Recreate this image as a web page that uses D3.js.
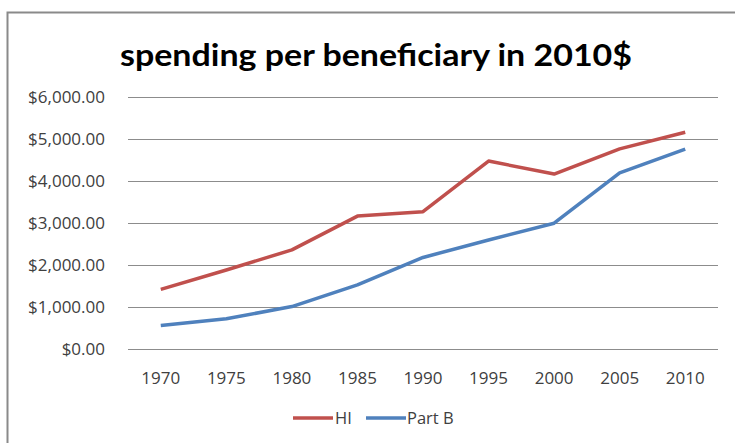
<!DOCTYPE html>
<html>
<head>
<meta charset="utf-8">
<script src="https://cdn.jsdelivr.net/npm/d3@7"></script>
<style>
  body { margin: 0; background: #fff; }
  text { font-family: "Open Sans", Lato, sans-serif; }
  .title { font-family: Lato, "Open Sans", sans-serif; }
</style>
</head>
<body>
<div id="chart-container"></div>
<script>
// line chart of spending per beneficiary, two series
const svgWidth = 735;
const svgHeight = 443;
const margin = { top: 97, right: 17, bottom: 94, left: 128 };
const width = svgWidth - margin.left - margin.right;
const height = svgHeight - margin.top - margin.bottom;

const years = ["1970", "1975", "1980", "1985", "1990", "1995", "2000", "2005", "2010"];
const hiValues = [1420, 1880, 2360, 3165, 3270, 4475, 4165, 4765, 5160];
const partBValues = [560, 720, 1010, 1525, 2180, 2595, 2995, 4195, 4760];
const yTicks = [0, 1000, 2000, 3000, 4000, 5000, 6000];
const seriesNames = ["HI", "Part B"];
const seriesColors = ["#C0504D", "#4F81BD"];

const root = d3.select("#chart-container")
    .append("svg")
    .attr("width", svgWidth)
    .attr("height", svgHeight);

// frame of the chart area (runs off the picture on the right and bottom)
root.append("rect")
    .attr("x", 7.5)
    .attr("y", 12.5)
    .attr("width", 800)
    .attr("height", 500)
    .attr("fill", "none")
    .attr("stroke", "#8a8a8a")
    .attr("stroke-width", 2);

const svg = root.append("g")
    .attr("transform", `translate(${margin.left},${margin.top})`);

const x = d3.scalePoint()
    .domain(years)
    .range([0, width])
    .padding(0.5);

const y = d3.scaleLinear()
    .domain([0, 6000])
    .range([height, 0]);

const money = d3.format("$,.2f");

// gridlines
svg.selectAll(".grid")
    .data(yTicks)
    .enter()
    .append("line")
    .attr("class", "grid")
    .attr("x1", 0)
    .attr("x2", width)
    .attr("y1", d => Math.round(y(d)) + 0.5)
    .attr("y2", d => Math.round(y(d)) + 0.5)
    .attr("stroke", "#8c8c8c")
    .attr("stroke-width", 1);

// y labels
svg.selectAll(".ylab")
    .data(yTicks)
    .enter()
    .append("text")
    .attr("class", "ylab")
    .attr("x", -23)
    .attr("y", d => y(d))
    .attr("dy", "0.35em")
    .attr("text-anchor", "end")
    .attr("font-size", 17)
    .attr("fill", "#404040")
    .text(d => money(d));

// x labels
svg.selectAll(".xlab")
    .data(years)
    .enter()
    .append("text")
    .attr("class", "xlab")
    .attr("x", d => x(d))
    .attr("y", height + 35)
    .attr("text-anchor", "middle")
    .attr("font-size", 17)
    .attr("fill", "#404040")
    .text(d => d);

const line = d3.line()
    .x((d, i) => x(years[i]))
    .y(d => y(d));

[hiValues, partBValues].forEach((vals, i) => {
    svg.append("path")
        .datum(vals)
        .attr("d", line)
        .attr("fill", "none")
        .attr("stroke", seriesColors[i])
        .attr("stroke-width", 3.5)
        .attr("stroke-linejoin", "round");
});

// title
root.append("text")
    .attr("class", "title")
    .attr("x", 376)
    .attr("y", 66)
    .attr("text-anchor", "middle")
    .attr("font-size", 30)
    .attr("font-weight", "bold")
    .attr("fill", "#000")
    .attr("textLength", 512)
    .attr("lengthAdjust", "spacingAndGlyphs")
    .text("spending per beneficiary in 2010$");

// legend
const legendItems = [
    { x: 293, tx: 335 },
    { x: 366, tx: 407 }
];
const legend = root.append("g");
legendItems.forEach((it, i) => {
    legend.append("line")
        .attr("x1", it.x)
        .attr("x2", it.x + 40)
        .attr("y1", 418)
        .attr("y2", 418)
        .attr("stroke", seriesColors[i])
        .attr("stroke-width", 3.5);
    legend.append("text")
        .attr("x", it.tx)
        .attr("y", 418)
        .attr("dy", "0.35em")
        .attr("font-size", 16.5)
        .attr("fill", "#404040")
        .text(seriesNames[i]);
});
</script>
</body>
</html>
